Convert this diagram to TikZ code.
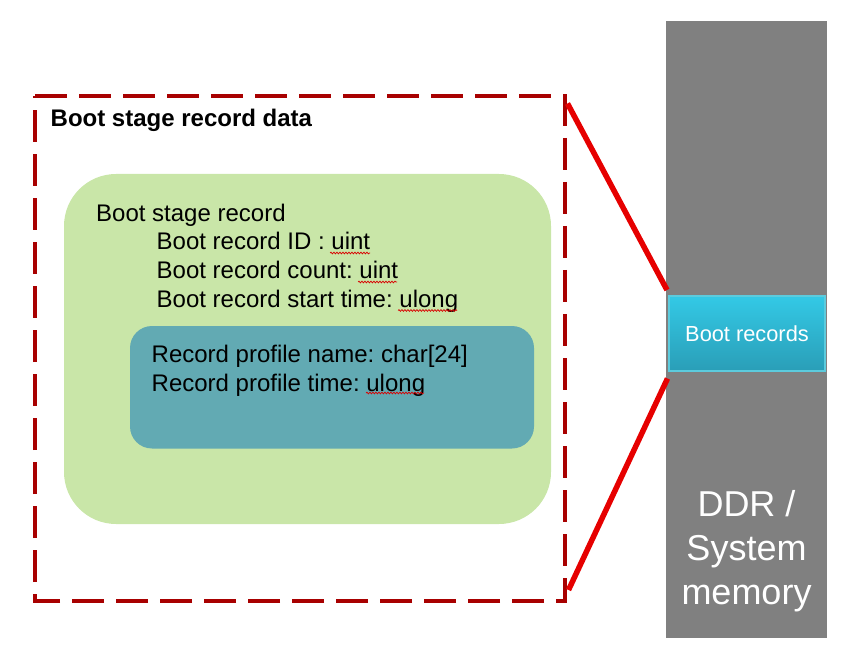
\documentclass[tikz,border=0pt]{standalone}
\usepackage{fontspec}
\setmainfont{Liberation Sans}
\usetikzlibrary{decorations.pathmorphing,shadows}
\definecolor{ddrgray}{HTML}{808080}
\definecolor{dashred}{HTML}{A80000}
\definecolor{linkred}{HTML}{E60000}
\definecolor{stagegreen}{HTML}{C9E6A8}
\definecolor{profteal}{HTML}{62AAB3}
\definecolor{cyantop}{HTML}{33C9E6}
\definecolor{cyanbot}{HTML}{2A9EB7}
\definecolor{cyanedge}{HTML}{5CCBDD}
\frenchspacing
\tikzset{
  txt/.style={anchor=base west,inner sep=0pt,font=\fontsize{24}{28.8}\selectfont},
  squig/.style={draw=red!85!black,line width=0.7pt,decorate,decoration={snake,segment length=3pt,amplitude=0.9pt}},
  link/.style={draw=linkred,line width=5.5pt}
}
\begin{document}
\begin{tikzpicture}[x=1pt,y=-1pt]
\useasboundingbox (0,0) rectangle (862,652);
% memory column
\fill[ddrgray] (666,21) rectangle (827,638);
\node[anchor=base,inner sep=0pt,text=white,font=\fontsize{36}{44}\selectfont] (ddr1) at (746.5,516) {DDR /};
\node[anchor=base,inner sep=0pt,text=white,font=\fontsize{36}{44}\selectfont] (ddr2) at (746.5,560) {System};
\node[anchor=base,inner sep=0pt,text=white,font=\fontsize{36}{44}\selectfont] (ddr3) at (746.5,604) {memory};
% boot records box
\shade[top color=cyantop,bottom color=cyanbot,draw=cyanedge,line width=1.2pt,drop shadow={opacity=0.3,shadow xshift=1.5pt,shadow yshift=-1.5pt}] (669,296) rectangle (825,371);
\node[anchor=base,inner sep=0pt,text=white,font=\fontsize{21.8}{25}\selectfont] (br) at (747,341.7) {Boot records};
\coordinate (brtop) at (667,290);
\coordinate (brbot) at (667.5,378.5);
% dashed container
\draw[dashred,line width=4pt,dash pattern=on 32pt off 12pt] (35,96) -- (565,96) -- (565,601) -- (35,601) -- cycle;
\node[txt,font=\fontsize{24}{28.8}\selectfont\bfseries] (title) at (50.5,126.5) {Boot stage record data};
\coordinate (dtop) at (567.5,103.5);
\coordinate (dbot) at (568.5,590);
% red links
\draw[link] (dtop) -- (brtop);
\draw[link] (brbot) -- (dbot);
% green record
\fill[stagegreen,rounded corners=52pt] (64,174) rectangle (551,524);
\node[txt] (l0) at (96,221.5) {Boot stage record};
\node[txt] (l1) at (156.5,250) {Boot record ID : uint};
\node[txt] (l2) at (156.5,279) {Boot record count: uint};
\node[txt] (l3) at (156.5,308) {Boot record start time: ulong};
% teal profile
\fill[profteal,rounded corners=22pt] (130,326) rectangle (534,448.5);
\node[txt] (p1) at (151.5,362.7) {Record profile name: char[24]};
\node[txt] (p2) at (151.5,391) {Record profile time: ulong};
% spell-check squiggles
\draw[squig] (330,253) -- (370,253);
\draw[squig] (358,282) -- (397,282);
\draw[squig] (398,310.5) -- (457,310.5);
\draw[squig] (366,393) -- (424,393);
\end{tikzpicture}
\end{document}
